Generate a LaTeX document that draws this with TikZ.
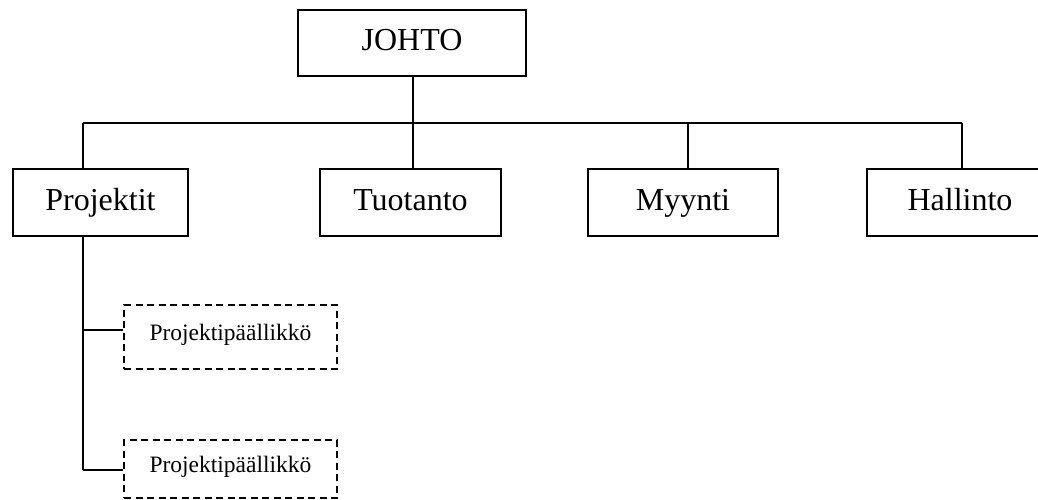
\documentclass[tikz,border=0pt]{standalone}
\usepackage{fontspec}
\setmainfont{Liberation Serif}
\begin{document}
\begin{tikzpicture}[x=1pt,y=-1pt,
  unitbox/.style={draw, line width=1.8pt, minimum height=67pt, inner sep=0pt,
    text height=22pt, text depth=7pt, font=\fontsize{32}{36}\selectfont},
  subbox/.style={draw, line width=1.8pt, dash pattern=on 7pt off 4.5pt,
    minimum width=213pt, inner sep=0pt, text height=17pt, text depth=11pt,
    font=\fontsize{23.5}{28}\selectfont},
  link/.style={line width=1.8pt}]
\useasboundingbox (0,0) rectangle (1038,499);
\clip (0,0) rectangle (1038,499);
% top level
\node[unitbox, minimum width=228pt, minimum height=66pt] (johto) at (412,43) {JOHTO};
% departments
\node[unitbox, minimum width=175pt] (proj) at (100.5,202.5) {Projektit};
\node[unitbox, minimum width=181pt] (tuot) at (410.5,202.5) {Tuotanto};
\node[unitbox, minimum width=190pt] (myyn) at (683,202.5) {Myynti};
\node[unitbox, minimum width=186pt] (hall) at (960,202.5) {Hallinto};
% project managers
\node[subbox, minimum height=64pt] (pm1) at (230.5,337) {Projektipäällikkö};
\node[subbox, minimum height=58pt] (pm2) at (230.5,469) {Projektipäällikkö};
% bus line and drop points
\coordinate (busL) at (83,123);
\coordinate (busR) at (962,123);
\coordinate (busT) at (413,123);
\coordinate (busM) at (688,123);
\draw[link] (johto.south -| busT) -- (busT);
\draw[link] (busL) -- (busR);
\draw[link] (busL) -- (busL |- proj.north);
\draw[link] (busT) -- (busT |- tuot.north);
\draw[link] (busM) -- (busM |- myyn.north);
\draw[link] (busR) -- (busR |- hall.north);
% project branch
\coordinate (j1) at (83,330);
\coordinate (j2) at (83,470);
\draw[link] (busL |- proj.south) -- (j2);
\draw[link] (j1) -- (pm1.west |- j1);
\draw[link] (j2) -- (pm2.west |- j2);
\end{tikzpicture}
\end{document}
